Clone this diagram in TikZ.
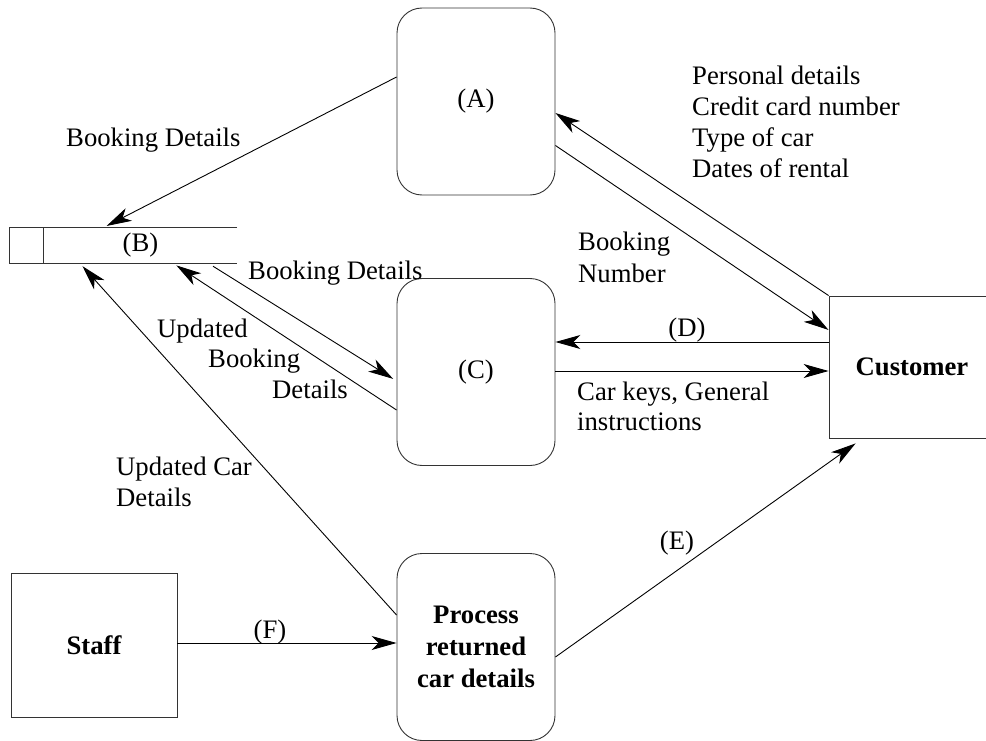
\documentclass[tikz,border=0pt]{standalone}
\usepackage{fontspec}
\setmainfont{Liberation Serif}
\usetikzlibrary{arrows.meta}
\begin{document}
\begin{tikzpicture}[x=1pt,y=-1pt,
  every node/.style={font=\fontsize{26.7}{31}\selectfont, inner sep=0pt},
  proc/.style={draw=black!80, line width=0.9pt, rounded corners=25pt, minimum width=158pt, minimum height=187pt},
  ent/.style={draw=black!80, line width=0.9pt, minimum width=166pt, minimum height=142pt, font=\fontsize{26.7}{31}\selectfont\bfseries},
  flow/.style={line width=0.9pt, -{Stealth[length=25pt,width=14pt,inset=7pt]}},
  storeline/.style={draw=black!80, line width=0.9pt},
  lbl/.style={anchor=base west}]
\useasboundingbox (0,0) rectangle (986,741);

% processes
\node[proc] (A) at (476,101.5) {(A)};
\node[proc] (C) at (476,372) {(C)};
\node[proc, align=center, font=\fontsize{26.7}{32}\selectfont\bfseries] (P) at (476,647) {Process\\returned\\car details};

% entities
\node[ent] (Cu) at (912,367) {Customer};
\node[ent, minimum height=144pt] (S) at (94,645) {Staff};

% data store
\node[minimum width=193pt, minimum height=35pt] (B) at (140.5,245.5) {(B)};
\draw[storeline] (B.north east) -- ([xshift=-34pt]B.north west) -- ([xshift=-34pt]B.south west) -- (B.south east);
\draw[storeline] (B.north west) -- (B.south west);

% flows
\draw[flow, shorten >=4pt] ([yshift=24.5pt]A.west) -- ([xshift=-37.5pt]B.north);
\draw[flow] (Cu.north west) -- ([yshift=-11.5pt]A.east);
\draw[flow] ([yshift=-44pt]A.east) -- ([yshift=37pt]Cu.west);
\draw[flow] ([yshift=25pt]Cu.west) -- ([yshift=30pt]C.east);
\draw[flow] ([yshift=1pt]C.east) -- ([yshift=-4pt]Cu.west);
\draw[flow] ([yshift=-10pt]P.east) -- ([xshift=27pt,yshift=-5pt]Cu.south west);
\draw[flow, shorten >=4pt] ([xshift=72.5pt,yshift=-3pt]B.south) -- ([yshift=-9pt]C.west);
\draw[flow, shorten >=4pt] ([yshift=-38pt]C.west) -- ([xshift=32.5pt]B.south);
\draw[flow, shorten >=4pt] ([yshift=32pt]P.west) -- ([xshift=36pt]B.south west);
\draw[flow] ([yshift=2pt]S.east) -- ([yshift=4pt]P.west);

% labels
\node[lbl] (l1) at (66,147) {Booking Details};
\node[lbl] (l2a) at (692,85) {Personal details};
\node[lbl] (l2b) at (692,116) {Credit card number};
\node[lbl] (l2c) at (692,147) {Type of car};
\node[lbl] (l2d) at (692,178) {Dates of rental};
\node[lbl] (l3a) at (578,251) {Booking};
\node[lbl] (l3b) at (578,282) {Number};
\node[lbl] (l4a) at (577,400) {Car keys, General};
\node[lbl] (l4b) at (577,430) {instructions};
\node[lbl] (l5) at (248,279) {Booking Details};
\node[lbl] (l6a) at (157,337) {Updated};
\node[lbl] (l6b) at (208,367) {Booking};
\node[lbl] (l6c) at (272,398) {Details};
\node[lbl] (l7a) at (116,475) {Updated Car};
\node[lbl] (l7b) at (116,506) {Details};
\node (lD) at (687,330) {(D)};
\node (lE) at (677,543) {(E)};
\node (lF) at (270,632) {(F)};
\end{tikzpicture}
\end{document}
